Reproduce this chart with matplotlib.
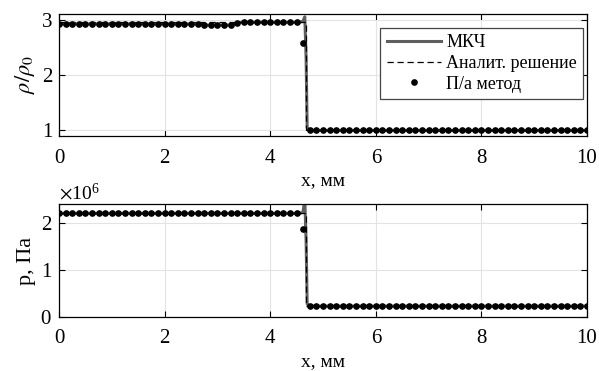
import numpy as np
import matplotlib
matplotlib.use("Agg")
from matplotlib import pyplot as plt
from matplotlib.ticker import ScalarFormatter

# Points of the particle (П/а) method, step 0.125 mm
x_pts = np.arange(81) * 0.125
rho_pts = [2.92] * 22 + [2.90] * 5 + [2.93] + [2.95] * 9 + [2.58] + [1.0] * 43
p_pts = [2.2e6] * 37 + [1.875e6] + [0.23e6] * 43

# МКЧ solution (gray line)
x_line = [0, 2.7, 2.8, 3.2, 3.35, 3.45, 4.55, 4.62, 4.655, 4.68, 4.70, 4.74, 10]
rho_line = [2.92, 2.92, 2.90, 2.90, 2.93, 2.95, 2.95, 2.97, 3.05, 2.3, 1.05, 1.0, 1.0]
p_line = [2.2e6, 2.2e6, 2.2e6, 2.2e6, 2.2e6, 2.2e6, 2.2e6, 2.22e6, 2.5e6,
          1.6e6, 0.28e6, 0.23e6, 0.23e6]

# Analytic solution (dashed)
x_an = [0, 4.67, 4.67, 10]
rho_an = [2.95, 2.95, 1.0, 1.0]
p_an = [2.2e6, 2.2e6, 0.23e6, 0.23e6]

plt.rcParams["font.family"] = ["Liberation Serif", "DejaVu Serif"]
plt.rcParams["mathtext.fontset"] = "stix"

fig = plt.figure(figsize=(5.99, 3.71), dpi=100)
ax1 = fig.add_axes([0.0985, 0.6334, 0.8815, 0.3288])
ax2 = fig.add_axes([0.0985, 0.1456, 0.8815, 0.3046])

panels = [
    (ax1, rho_line, rho_an, rho_pts, r"$\rho/\rho_0$", (0.9, 3.1), [1, 2, 3]),
    (ax2, p_line, p_an, p_pts, "p, Па", (0, 2.4e6), [0, 1e6, 2e6]),
]

for ax, yl, ya, yp, lab, ylim, yticks in panels:
    ax.plot(x_line, yl, color="#5f5f5f", lw=2.2, label="МКЧ")
    ax.plot(x_an, ya, color="black", lw=0.9, ls=(0, (5, 3)), label="Аналит. решение")
    ax.plot(x_pts, yp, "o", color="black", ms=3.8, label="П/а метод")
    ax.set_xlim(0, 10)
    ax.set_ylim(*ylim)
    ax.set_xticks([0, 2, 4, 6, 8, 10])
    ax.set_yticks(yticks)
    ax.grid(True, color="#e3e3e3", lw=0.8)
    ax.set_axisbelow(True)
    ax.tick_params(direction="in", top=True, right=True, length=4, width=0.8,
                   pad=9, labelsize=15)
    ax.tick_params(axis="y", pad=5)
    for s in ax.spines.values():
        s.set_linewidth(0.9)
    ax.set_xlabel("x, мм", fontsize=14, labelpad=3)
    ax.set_ylabel(lab, fontsize=16, labelpad=3)

fmt = ScalarFormatter(useMathText=True)
fmt.set_powerlimits((0, 0))
ax2.yaxis.set_major_formatter(fmt)
ax2.yaxis.get_offset_text().set_fontsize(14)

leg = ax1.legend(loc="upper right", bbox_to_anchor=(0.993, 0.885), fontsize=13,
                 fancybox=False, framealpha=1, edgecolor="#444444",
                 handlelength=3.0, borderpad=0.35, labelspacing=0.2,
                 handletextpad=0.3, borderaxespad=0)
leg.get_frame().set_linewidth(0.9)

fig.savefig("out.png", dpi=100)
